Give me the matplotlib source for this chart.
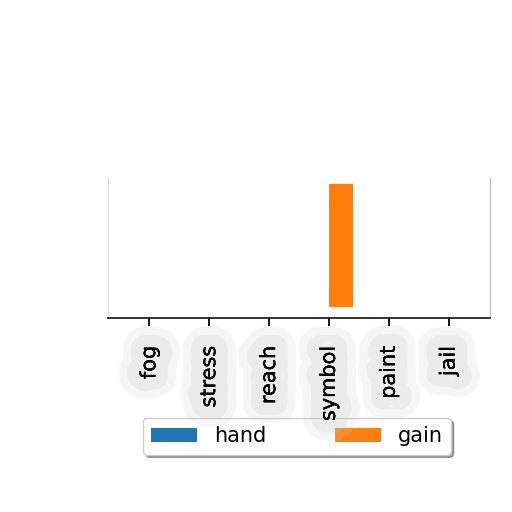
import numpy as np
import matplotlib
matplotlib.use('Agg')
import matplotlib.pyplot as plt
import matplotlib.patheffects as pe

categories = ['fog', 'stress', 'reach', 'symbol', 'paint', 'jail']
hand = [0, 0, 0, 0, 0, 0]
gain = [0, 0, 0, 7.2, 0, 0]

fig = plt.figure(figsize=(5.12, 5.12), dpi=100)
ax = fig.add_axes([0.211, 0.379, 0.746, 0.273])

x = np.arange(len(categories))
width = 0.4
ax.bar(x - width / 2, hand, width, color='#1f77b4', label='hand')
ax.bar(x + width / 2, gain, width, color='#ff7f0e', label='gain')

ax.set_xticks(x)
ax.set_xticklabels(categories, rotation=90, fontsize=15)
ax.tick_params(axis='x', length=6, width=1.3, pad=14)
ax.set_yticks([])
ax.set_ylim(-0.65, max(gain) * 1.05)

# soft grey haze behind the tick labels
for label in ax.get_xticklabels():
    label.set_path_effects([
        pe.withStroke(linewidth=30, foreground=(0.82, 0.82, 0.82, 0.18)),
        pe.withStroke(linewidth=18, foreground=(0.78, 0.78, 0.78, 0.22)),
        pe.Normal()])

ax.spines['top'].set_visible(False)
ax.spines['left'].set_color('#dddddd')
ax.spines['right'].set_color('#bbbbbb')
ax.spines['bottom'].set_color('#222222')
ax.spines['bottom'].set_linewidth(1.3)

leg = fig.legend(loc='center', bbox_to_anchor=(0.58, 0.148), ncol=2, fontsize=15,
                 shadow=True, columnspacing=3.3, handlelength=2.2)
leg.set_zorder(-1)

fig.savefig('out.png', dpi=100)
